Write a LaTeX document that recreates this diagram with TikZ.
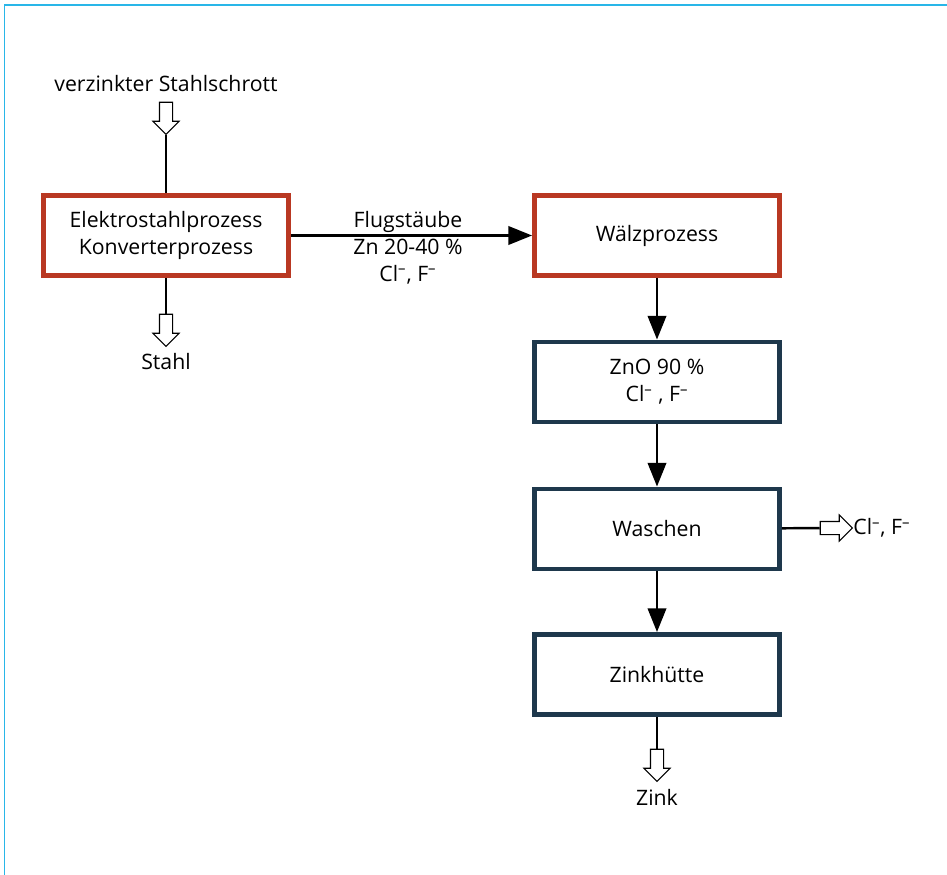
\documentclass[tikz,border=0pt]{standalone}
\usepackage{fontspec}
\setmainfont{Open Sans}
\usetikzlibrary{positioning,arrows.meta,shapes.arrows}
\definecolor{rotbraun}{RGB}{185,56,34}
\definecolor{dunkelblau}{RGB}{30,56,76}
\definecolor{randblau}{RGB}{41,182,232}
\newcommand{\hochminus}{\textsuperscript{–}}

\begin{document}
\begin{tikzpicture}[x=0.02cm,y=-0.02cm,
  font=\fontsize{12.1pt}{15.3pt}\selectfont,
  prozess/.style={draw=rotbraun,line width=2.8pt,minimum width=4.9cm,minimum height=1.6cm,align=center,inner sep=0pt},
  stufe/.style={prozess,draw=dunkelblau},
  fluss/.style={line width=1.4pt,-{Triangle[length=13.5pt,width=10.5pt]}},
  linie/.style={line width=1.4pt},
  hohlpfeil/.style={single arrow,draw,fill=white,line width=0.6pt,inner xsep=0pt,inner ysep=0.12cm,
    minimum height=0.64cm,minimum width=0pt,single arrow head extend=0.13cm},
  hohlpfeil runter/.style={hohlpfeil,shape border rotate=270,inner xsep=0.12cm,inner ysep=0pt}]
  \useasboundingbox (0,0) rectangle (947,875);
  % Rahmen
  \draw[randblau,line width=1.1pt] (4.5,875) -- (4.5,5) -- (947,5);

  % Stahlwerk
  \node (schrott) at (166,84) {verzinkter Stahlschrott};
  \node[hohlpfeil runter] (schrottpfeil) at (166,115) {};
  \node[prozess] (stahlwerk) at (166,235.5) {Elektrostahlprozess\\Konverterprozess};
  \node[hohlpfeil runter] (stahlpfeil) at (166,327) {};
  \node (stahl) at (166,362) {Stahl};

  % Zinkrueckgewinnung
  \node[prozess] (waelz) at (657,235.5) {Wälzprozess};
  \node[stufe] (zno) at (657,382) {ZnO 90 \%\\Cl\hochminus\ , F\hochminus};
  \node[stufe] (waschen) at (657,529) {Waschen};
  \node[stufe] (huette) at (657,674.5) {Zinkhütte};
  \node[hohlpfeil runter] (zinkpfeil) at (657,762) {};
  \node (zink) at (657,797) {Zink};
  \node[hohlpfeil] (salzpfeil) at (833,528) {};
  \node[anchor=west,inner sep=0pt] (salz) at (853,528) {Cl\hochminus, F\hochminus};

  \node[align=center] (staub) at (408,248) {Flugstäube\\Zn 20-40 \%\\Cl\hochminus, F\hochminus};

  \draw[linie] (schrottpfeil) -- (stahlwerk);
  \draw[linie] (stahlwerk) -- (stahlpfeil);
  \draw[fluss] (stahlwerk) -- (waelz);
  \draw[fluss] (waelz) -- (zno);
  \draw[fluss] (zno) -- (waschen);
  \draw[fluss] (waschen) -- (huette);
  \draw[linie] (huette) -- (zinkpfeil);
  \draw[linie] (waschen) -- (salzpfeil);
\end{tikzpicture}
\end{document}
